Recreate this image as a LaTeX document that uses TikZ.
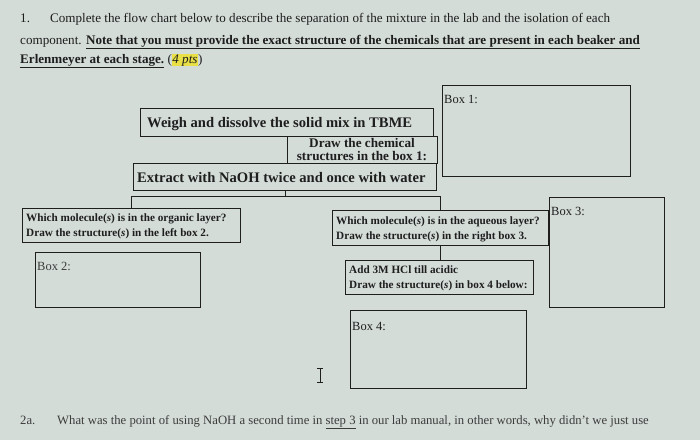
\documentclass[tikz,border=0pt]{standalone}
\usepackage{fontspec}
\setmainfont{Liberation Serif}
\definecolor{bg}{RGB}{212,220,216}
\definecolor{ink}{RGB}{30,30,30}
\definecolor{ink2}{RGB}{60,60,60}
\definecolor{hl}{RGB}{232,224,70}
\begin{document}
\begin{tikzpicture}[x=1pt,y=-1pt,
  frame/.style={draw=ink, line width=1.1pt, inner sep=0, anchor=north west},
  txt/.style={text=ink, inner sep=0, anchor=base west, font=\fontsize{13.1}{15}\selectfont},
  flow/.style={text=ink, inner sep=0, anchor=base west, font=\bfseries\fontsize{14.6}{16}\selectfont},
  drawtxt/.style={text=ink, inner sep=0, anchor=base, font=\bfseries\fontsize{13.2}{14}\selectfont},
  small/.style={text=ink, inner sep=0, anchor=base west, font=\bfseries\fontsize{11.2}{13}\selectfont},
  boxlbl/.style={text=ink, inner sep=0, anchor=base west, font=\fontsize{12.5}{14}\selectfont},
  conn/.style={draw=ink, line width=0.9pt}]
\fill[bg] (0,0) rectangle (700,440);
\useasboundingbox (0,0) rectangle (700,440);

% heading
\node[txt] (n1) at (20,22) {1.};
\node[txt] (l1) at (50,22) {Complete the flow chart below to describe the separation of the mixture in the lab and the isolation of each};
\node[txt] (l2) at (20,44) {component. \textbf{\underline{Note that you must provide the exact structure of the chemicals that are present in each beaker and}}};
\node[txt] (l3) at (20,63) {\textbf{\underline{Erlenmeyer at each stage.}} ({\setlength\fboxsep{0.5pt}\colorbox{hl}{\textit{4 pts}}})};

% flow chart boxes
\node[frame, minimum width=293pt, minimum height=28pt] (weigh) at (140,108) {};
\node[flow] (weight) at (147,127) {Weigh and dissolve the solid mix in TBME};
\node[frame, minimum width=150pt, minimum height=27pt] (drawbox) at (287,136) {};
\node[drawtxt] (drawt1) at (362,147) {Draw the chemical};
\node[drawtxt] (drawt2) at (362,160.5) {structures in the box 1:};
\node[frame, minimum width=303pt, minimum height=27pt] (extract) at (133,163) {};
\node[flow] (extractt) at (137,182) {Extract with NaOH twice and once with water};

\node[frame, minimum width=218pt, minimum height=34pt] (organic) at (22,208) {};
\node[small] (orgt1) at (26,221) {Which molecule(\textit{s}) is in the organic layer?};
\node[small] (orgt2) at (26,236) {Draw the structure(\textit{s}) in the left box 2.};

\node[frame, minimum width=216pt, minimum height=35pt] (aqueous) at (332,210) {};
\node[small] (aqt1) at (336,224) {Which molecule(\textit{s}) is in the aqueous layer?};
\node[small] (aqt2) at (336,239) {Draw the structure(\textit{s}) in the right box 3.};

\node[frame, minimum width=188pt, minimum height=34pt] (addbox) at (345,260) {};
\node[small] (addt1) at (349,273) {Add 3M HCl till acidic};
\node[small] (addt2) at (349,288) {Draw the structure(\textit{s}) in box 4 below:};

% answer boxes
\node[frame, line width=1.4pt, minimum width=188pt, minimum height=91pt] (box1) at (442,85) {};
\node[boxlbl] (box1l) at (444,103) {Box 1:};
\node[frame, line width=1.4pt, minimum width=165pt, minimum height=55pt] (box2) at (35,252) {};
\node[boxlbl, text=ink2] (box2l) at (37,270) {Box 2:};
\node[frame, line width=1.4pt, minimum width=115pt, minimum height=110pt] (box3) at (549,197) {};
\node[boxlbl] (box3l) at (551,215) {Box 3:};
\node[frame, line width=1.4pt, minimum width=176pt, minimum height=78pt] (box4) at (350,310) {};
\node[boxlbl] (box4l) at (352,330) {Box 4:};

% connectors
\draw[conn] (extract.south) -- ++(0,5) coordinate (j);
\draw[conn] (organic.north) |- (j) -| (aqueous.north);
\draw[conn] (aqueous.south) -- (aqueous.south |- addbox.north);

% text cursor
\draw[ink, line width=0.8pt] (317,368) -- (323,368) (320,368) -- (320,382) (317,382) -- (323,382);

% question 2a
\node[txt, text=ink2, font=\fontsize{12.7}{14}\selectfont] (q2) at (20,424) {2a.};
\node[txt, text=ink2, font=\fontsize{12.7}{14}\selectfont] (q2t) at (57,424) {What was the point of using NaOH a second time in \underline{step 3} in our lab manual, in other words, why didn't we just use};
\end{tikzpicture}
\end{document}
